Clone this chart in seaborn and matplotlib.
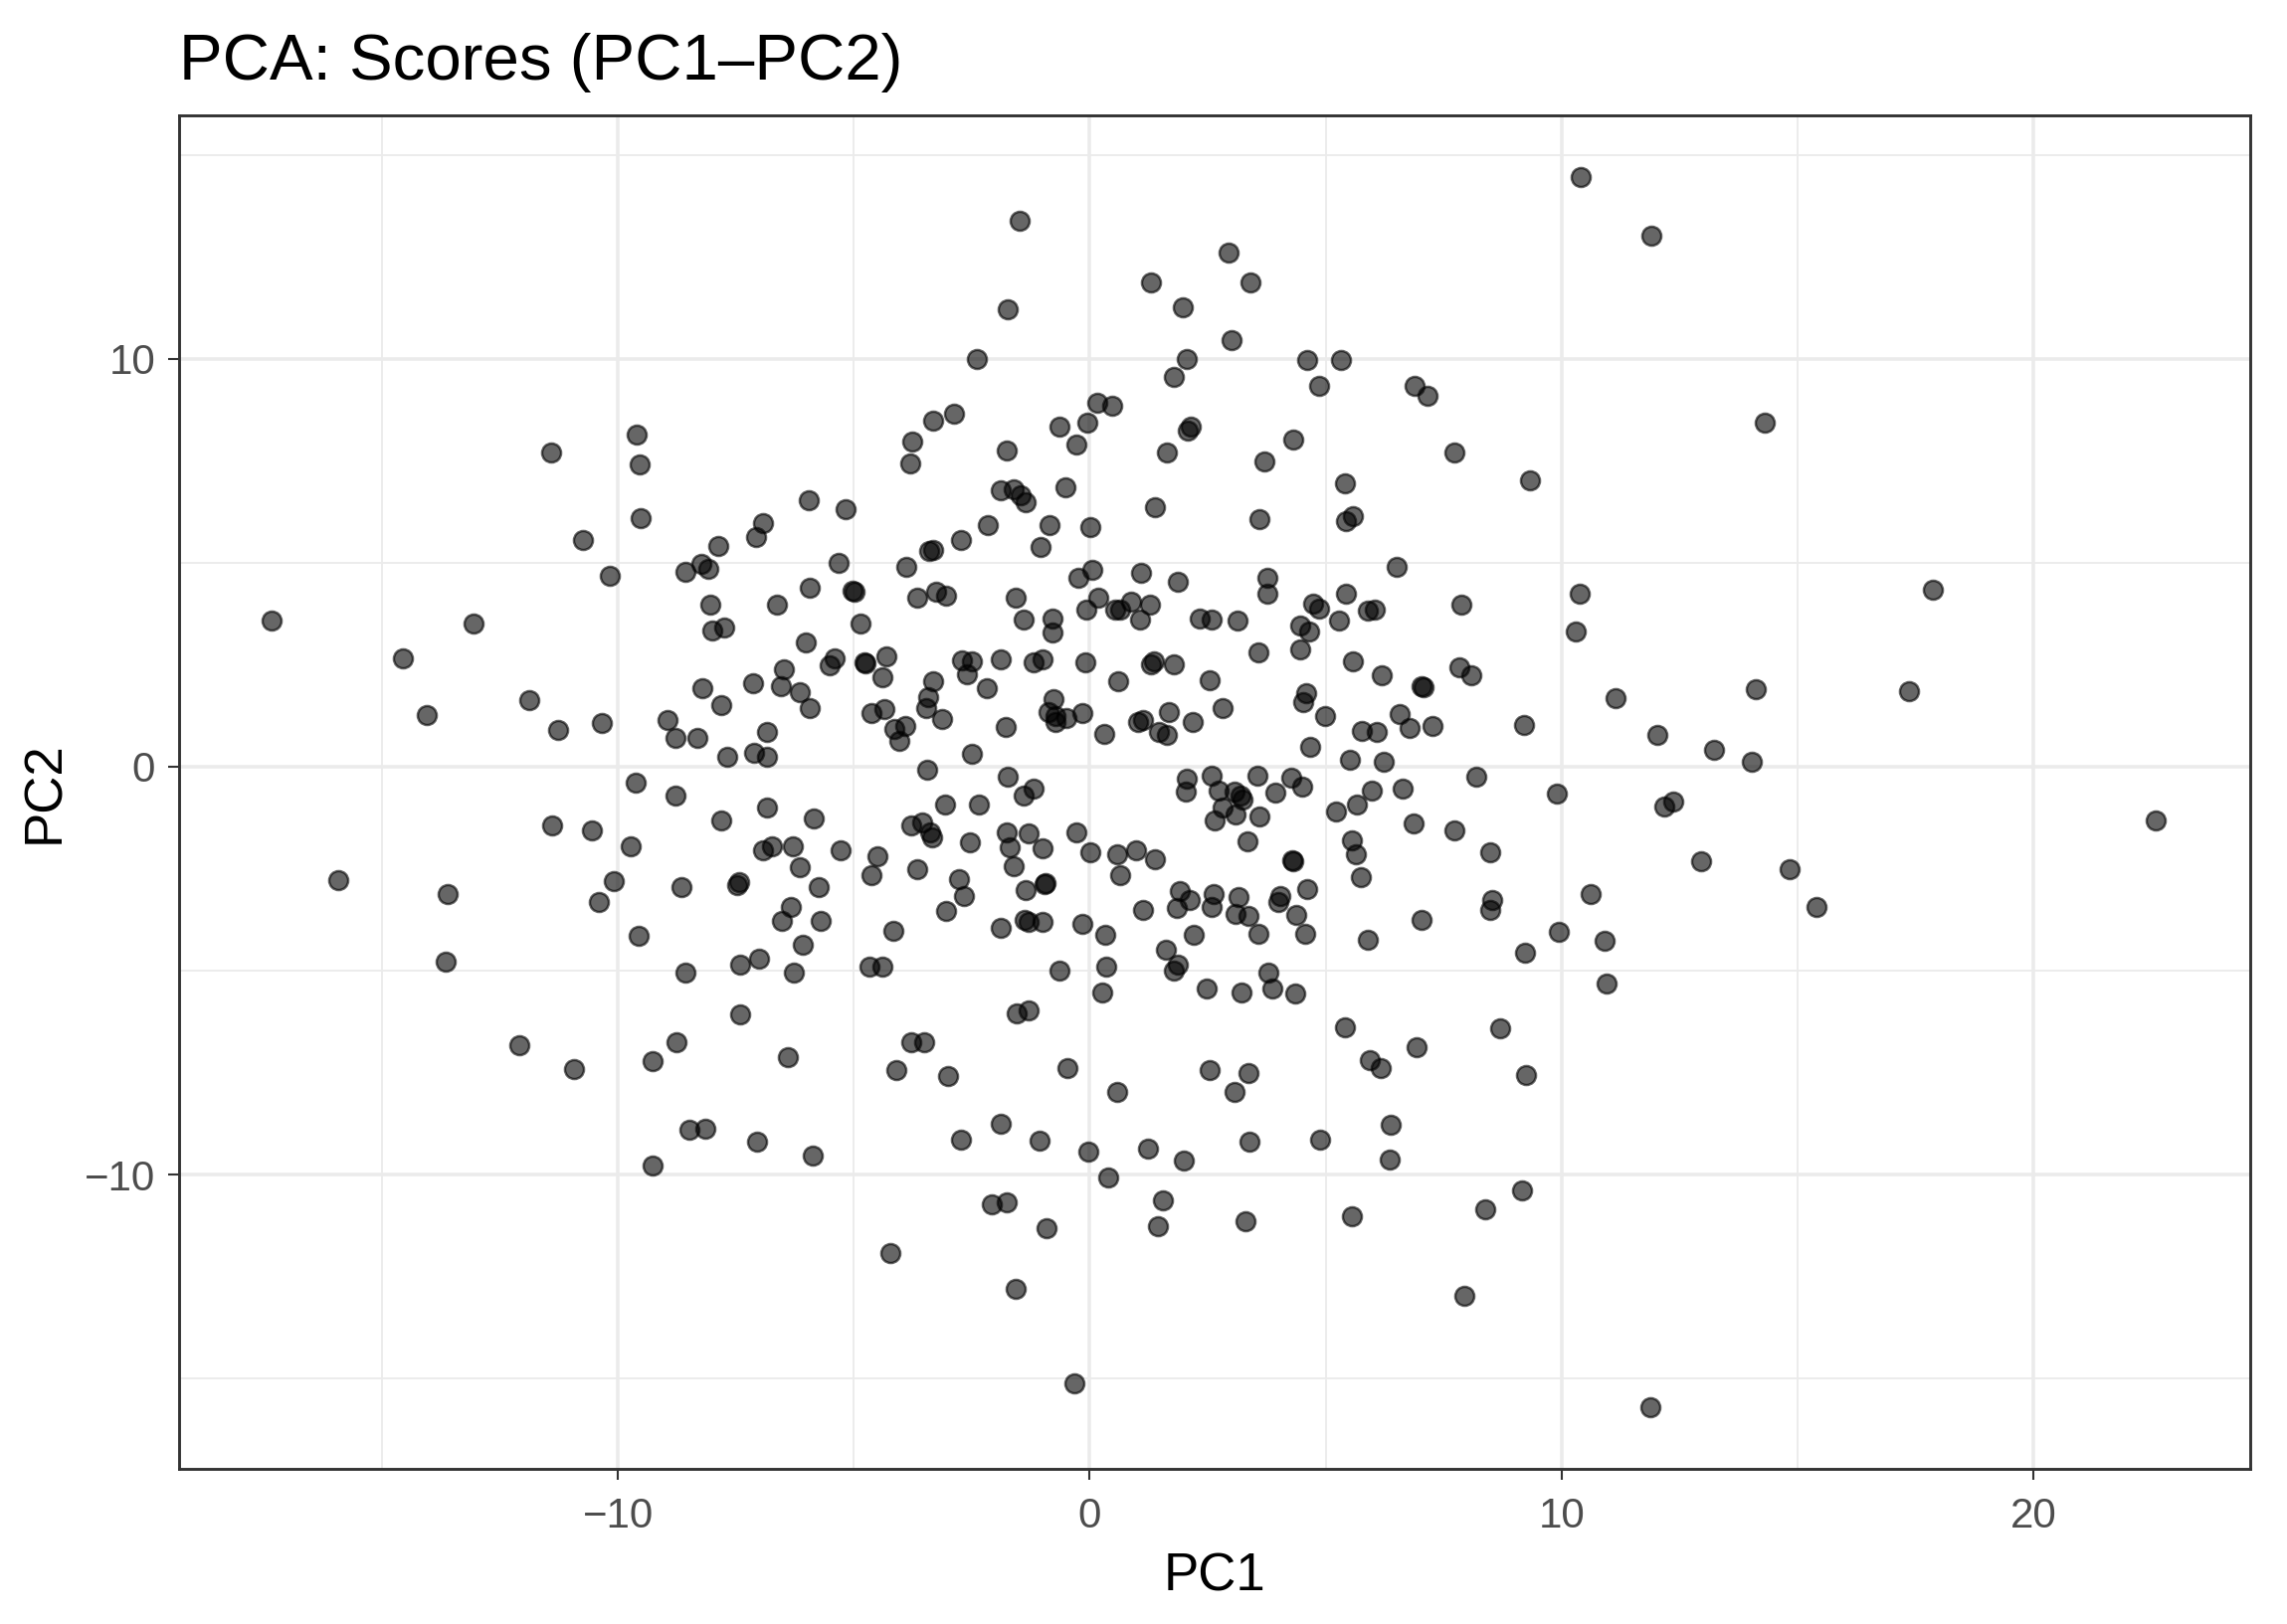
import numpy as np
import pandas as pd
import matplotlib
matplotlib.use("Agg")
import matplotlib.pyplot as plt
from matplotlib.ticker import MultipleLocator
import seaborn as sns

# PCA scores (PC1, PC2)
pc1 = [
    # upper band
    -11.42, -9.61, -9.54, -9.52, -10.74, -7.87, -1.49, -1.74, -2.40, 1.29,
    1.98, 2.05, 1.79, 0.16, 0.48, -0.05, -0.65, -0.29, -2.87, -3.31,
    -3.76, -3.80, -1.76, 2.13, 2.07, 1.64, -0.51, -1.88, -1.61, -1.47,
    -1.37, 1.39, 0.01, -0.86, -1.04, -2.16, -2.73, -3.33, -3.40, -5.17,
    -5.95, -6.93, -7.07, -5.33, -3.88, 10.40, 11.89, 2.95, 3.40, 3.00,
    4.61, 5.33, 4.85, 6.89, 7.15, 7.73, 9.32, 4.31, 3.69, 5.41,
    5.58, 5.43, 3.59, 14.31,
    # middle band, left
    -17.33, -13.07, -14.55, -14.05, -11.87, -11.26, -10.33, -10.17, -8.56, -8.24,
    -8.08, -8.05, -8.00, -8.22, -8.94, -8.79, -8.31, -9.63, -8.77, -11.40,
    -10.56, -9.72, -15.93, -13.60, -10.09, -10.41, -8.66, -9.55, -13.65,
    # middle band, centre-left
    -5.94, -5.02, -4.99, -6.63, -7.75, -6.02, -4.85, -3.65, -3.25, -3.05,
    -5.40, -5.51, -6.49, -6.54, -7.13, -6.14, -5.93, -7.81, -4.78, -4.75,
    -4.31, -4.40, -4.63, -4.36, -4.15, -3.91, -4.03, -3.31, -3.43, -3.46,
    -3.12, -2.70, -2.50, -2.61, -2.19, -1.89, -1.56, -1.40, -0.80, -0.80,
    -1.19, -1.01, -0.10, -0.77, -0.87, -0.72, -0.72, -0.49, -0.15, -1.79,
    -2.50, 0.30, -0.24, 0.05, 1.08, 1.86, 0.18, -0.07, 0.53, 0.65,
    0.88, 1.27, 1.06, 1.37, 1.29, 1.79, 0.60, 1.02, 1.12, 1.67,
    1.46, 1.63, -6.85, -7.12, -6.85, -7.68,
    -3.45, -1.73, -1.40, -1.19, -3.07, -2.36, -7.81, -6.84, -5.86, -6.92,
    -6.73, -6.30, -5.29, -6.15, -7.47, -7.44, -5.75, -6.33, -6.52, -5.70,
    -6.09, -7.40, -7.00, -4.50, -4.63, -3.78, -3.55, -3.38, -3.35, -3.65,
    -2.54, -2.78, -2.66, -3.05, -4.16, -4.68, -4.40, -1.75, -1.70, -1.29,
    -1.00, -1.62, -0.96, -0.94, -1.35, -1.89, -1.38, -1.29, -1.01, -0.28,
    -0.16, 0.02, 0.59, 0.99, 1.39, 0.64, 1.13, 0.32, 0.35, 1.62,
    1.86, 1.90, 1.85,
    # middle band, centre-right
    3.76, 3.76, 2.34, 2.58, 3.14, 4.74, 4.85, 4.46, 4.65, 4.46,
    3.57, 2.53, 2.81, 2.19, 4.59, 4.53, 4.99, 4.67, 5.43, 6.51,
    5.29, 5.90, 6.05, 5.58, 6.18, 7.04, 7.07, 7.83, 8.09, 7.88,
    6.56, 6.78, 7.27, 5.76, 6.09, 5.51, 6.23, 9.20, 10.39, 10.30,
    11.14, 12.02,
    2.06, 2.04, 2.59, 2.74, 3.06, 3.20, 3.23, 2.81, 3.09, 2.65,
    3.56, 3.60, 3.93, 4.27, 4.51, 3.34, 4.32, 4.30, 5.22, 5.67,
    5.97, 6.64, 8.19, 9.90, 6.86, 7.72, 8.48, 5.55, 5.64, 5.74,
    2.12, 2.62, 2.58, 3.15, 3.09, 3.37, 4.04, 3.99, 4.60, 4.37,
    2.21, 3.58, 4.56, 5.90, 7.04, 8.53, 8.49, 9.23, 9.93, 10.62,
    10.92,
    # middle band, right
    17.87, 14.11, 17.36, 13.22, 14.03, 12.36, 12.17, 12.96, 14.83, 15.39,
    22.58,
    # lower band
    -8.56, -12.08, -10.94, -9.26, -8.75, -8.49, -8.15, -9.26,
    -6.28, -0.64, 1.79, 0.26, -7.40, -6.40, -7.06, -5.87, -3.79, -3.51,
    -4.10, -3.01, -1.54, -1.29, -0.47, 0.58, -1.88, -2.73, -1.06, -0.04,
    1.23, 1.99, 0.38, 1.56, 1.44, -2.07, -1.77, -0.92, -4.23, -1.58,
    -0.33,
    3.79, 2.47, 3.22, 3.86, 4.35, 10.95, 5.41, 8.69, 6.93, 5.93,
    6.16, 9.25, 2.53, 3.36, 3.06, 6.37, 6.35, 3.38, 4.87, 3.29,
    5.55, 8.38, 9.15, 7.93, 11.88,
]

pc2 = [
    # upper band
    7.69, 8.13, 7.42, 6.10, 5.55, 5.41, 13.38, 11.21, 9.99, 11.86,
    11.26, 10.00, 9.55, 8.93, 8.85, 8.43, 8.33, 7.89, 8.65, 8.49,
    7.96, 7.44, 7.76, 8.33, 8.23, 7.70, 6.84, 6.78, 6.79, 6.65,
    6.49, 6.36, 5.88, 5.91, 5.38, 5.93, 5.56, 5.32, 5.28, 6.32,
    6.53, 5.96, 5.62, 4.99, 4.91, 14.46, 13.02, 12.61, 11.87, 10.45,
    9.98, 9.96, 9.34, 9.33, 9.08, 7.70, 7.03, 8.03, 7.48, 6.95,
    6.14, 6.01, 6.08, 8.43,
    # middle band, left
    3.57, 3.51, 2.66, 1.26, 1.63, 0.90, 1.07, 4.69, 4.77, 4.98,
    4.84, 3.96, 3.33, 1.93, 1.14, 0.71, 0.71, -0.40, -0.72, -1.43,
    -1.56, -1.94, -2.79, -3.12, -2.81, -3.32, -2.95, -4.15, -4.78,
    # middle band, centre-left
    4.38, 4.32, 4.30, 3.96, 3.42, 3.04, 3.50, 4.15, 4.29, 4.19,
    2.66, 2.48, 2.39, 1.98, 2.05, 1.82, 1.44, 1.51, 2.56, 2.53,
    2.70, 2.20, 1.31, 1.40, 0.93, 1.00, 0.62, 2.09, 1.71, 1.43,
    1.16, 2.61, 2.58, 2.26, 1.93, 2.62, 4.15, 3.60, 3.62, 3.28,
    2.55, 2.63, 2.56, 1.66, 1.35, 1.23, 1.09, 1.19, 1.31, 0.98,
    0.32, 0.80, 4.63, 4.82, 4.74, 4.53, 4.15, 3.86, 3.85, 3.85,
    4.04, 3.97, 3.60, 2.58, 2.52, 2.50, 2.09, 1.10, 1.14, 1.33,
    0.84, 0.78, 0.84, 0.35, 0.23, 0.24,
    -0.07, -0.25, -0.72, -0.54, -0.94, -0.93, -1.31, -1.01, -1.27, -2.04,
    -1.94, -1.96, -2.05, -2.47, -2.91, -2.83, -2.94, -3.44, -3.78, -3.77,
    -4.36, -4.86, -4.70, -2.20, -2.67, -1.45, -1.37, -1.62, -1.74, -2.52,
    -1.86, -2.75, -3.16, -3.54, -4.03, -4.90, -4.90, -1.62, -1.98, -1.63,
    -2.00, -2.43, -2.87, -2.85, -3.02, -3.94, -3.75, -3.81, -3.81, -1.60,
    -3.85, -2.10, -2.14, -2.06, -2.26, -2.67, -3.51, -4.13, -4.90, -4.48,
    -4.86, -3.04, -3.47,
    # middle band, centre-right
    4.63, 4.23, 3.64, 3.60, 3.58, 3.99, 3.88, 3.46, 3.32, 2.87,
    2.79, 2.12, 1.44, 1.10, 1.79, 1.59, 1.23, 0.48, 4.23, 4.89,
    3.58, 3.82, 3.86, 2.58, 2.24, 1.97, 1.96, 2.44, 2.24, 3.97,
    1.28, 0.94, 1.00, 0.88, 0.84, 0.17, 0.13, 1.02, 4.25, 3.32,
    1.69, 0.78,
    -0.29, -0.62, -0.21, -0.58, -0.60, -0.72, -0.80, -1.01, -1.17, -1.33,
    -0.21, -1.23, -0.63, -0.28, -0.48, -1.83, -2.31, -2.29, -1.11, -0.94,
    -0.58, -0.54, -0.25, -0.67, -1.39, -1.55, -2.10, -1.80, -2.14, -2.71,
    -3.26, -3.13, -3.43, -3.20, -3.62, -3.66, -3.16, -3.32, -3.00, -3.63,
    -4.12, -4.09, -4.09, -4.25, -3.75, -3.26, -3.51, -4.56, -4.05, -3.12,
    -4.28,
    # middle band, right
    4.33, 1.90, 1.85, 0.41, 0.11, -0.86, -0.98, -2.31, -2.51, -3.43,
    -1.31,
    # lower band
    -5.06, -6.83, -7.42, -7.21, -6.75, -8.89, -8.88, -9.77,
    -5.05, -5.00, -5.00, -5.54, -6.08, -7.11, -9.18, -9.54, -6.75, -6.75,
    -7.44, -7.58, -6.05, -5.97, -7.38, -7.98, -8.76, -9.15, -9.17, -9.44,
    -9.36, -9.66, -10.07, -10.62, -11.27, -10.74, -10.69, -11.31, -11.93, -12.79,
    -15.11,
    -5.06, -5.45, -5.53, -5.45, -5.55, -5.31, -6.39, -6.42, -6.87, -7.19,
    -7.40, -7.56, -7.44, -7.52, -7.98, -8.78, -9.63, -9.20, -9.14, -11.15,
    -11.01, -10.86, -10.39, -12.96, -15.69,
]

scores = pd.DataFrame({"PC1": pc1, "PC2": pc2})

sns.set_theme(style="white")
plt.rcParams["font.family"] = ["Liberation Sans", "DejaVu Sans"]

fig = plt.figure(figsize=(2299 / 300, 1633 / 300), dpi=300)
ax = fig.add_axes([180 / 2299, 1 - 1476.5 / 1633,
                   (2262.4 - 180) / 2299, (1476.5 - 115.8) / 1633])

sns.scatterplot(data=scores, x="PC1", y="PC2", ax=ax, color="black",
                alpha=0.6, s=21, edgecolor="black", linewidth=0.6, zorder=3)

ax.set_xlim(-19.3, 24.6)
ax.set_ylim(-17.2, 15.97)
ax.xaxis.set_major_locator(MultipleLocator(10))
ax.yaxis.set_major_locator(MultipleLocator(10))
ax.xaxis.set_minor_locator(MultipleLocator(5))
ax.yaxis.set_minor_locator(MultipleLocator(5))

ax.grid(which="major", color="#EBEBEB", linewidth=0.85)
ax.grid(which="minor", color="#EBEBEB", linewidth=0.45)
ax.set_axisbelow(True)

for sp in ax.spines.values():
    sp.set_color("#333333")
    sp.set_linewidth(0.7)

ax.tick_params(which="major", length=2.75, width=0.5, color="#333333",
               labelsize=10.1, labelcolor="#4D4D4D", pad=3,
               bottom=True, left=True)
ax.tick_params(axis="x", which="major", pad=4.2)
ax.tick_params(which="minor", length=0, bottom=False, left=False)

ax.set_xlabel("PC1", fontsize=12.7, color="black", labelpad=3.5)
ax.set_ylabel("PC2", fontsize=12.7, color="black", labelpad=3.5)
ax.set_title("PCA: Scores (PC1\u2013PC2)", loc="left", fontsize=15.7,
             color="black", pad=8.5)

fig.savefig("out.png", dpi=300)
